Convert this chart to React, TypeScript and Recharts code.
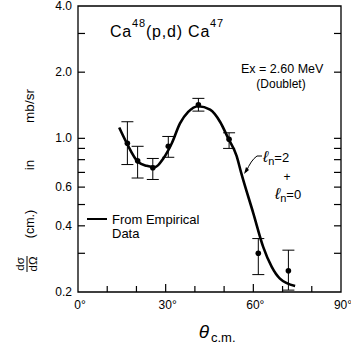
import React from 'react';
import {
  ComposedChart,
  Line,
  Scatter,
  ErrorBar,
  XAxis,
  YAxis,
  ReferenceArea,
  Customized,
} from 'recharts';

// fitted curve (l=2 + l=0)
const curveAngle = [14.1, 16.7, 20.6, 23.5, 26.4, 29.2, 32.1, 34.9, 37.7, 41.2, 45.2, 48.6, 51.4, 54.3, 55.8, 60.0, 63.4, 66.3, 69.1, 74.3];
const curveValue = [1.12, 0.95, 0.78, 0.75, 0.74, 0.81, 0.95, 1.17, 1.32, 1.4, 1.35, 1.19, 1.0, 0.83, 0.7, 0.456, 0.32, 0.26, 0.23, 0.213];

// measured points with error bar limits
const pointAngle = [16.9, 20.4, 25.6, 30.9, 41.2, 51.7, 61.7, 72.0];
const pointValue = [0.95, 0.79, 0.735, 0.92, 1.42, 0.99, 0.3, 0.25];
const pointLow = [0.76, 0.66, 0.65, 0.82, 1.33, 0.9, 0.24, 0.204];
const pointHigh = [1.19, 0.92, 0.81, 1.02, 1.52, 1.06, 0.35, 0.31];

const yTicks = [0.2, 0.3, 0.4, 0.5, 0.6, 0.7, 0.8, 0.9, 1, 2, 3, 4];
const yLabelValues = [0.2, 0.4, 0.6, 1, 2, 4];
const yLabelText = ['0.2', '0.4', '0.6', '1.0', '2.0', '4.0'];
const xTicks = [0, 10, 20, 30, 40, 50, 60, 70, 80, 90];
const xLabelValues = [0, 30, 60, 90];

const curveData = curveAngle.map((a, i) => ({ angle: a, value: curveValue[i] }));
const pointData = pointAngle.map((a, i) => ({
  angle: a,
  value: pointValue[i],
  err: [pointValue[i] - pointLow[i], pointHigh[i] - pointValue[i]],
}));

const W = 351;
const H = 349;
const MARGIN = { top: 6, right: 10, bottom: 0, left: 0 };
const PLOT_RIGHT = W - MARGIN.right;
const FONT = '"Liberation Sans", Arial, sans-serif';

const YTick = (props: any) => {
  const { x, y, payload } = props;
  const v = payload.value;
  const idx = yLabelValues.indexOf(v);
  const edge = v === 0.2 || v === 4;
  return (
    <g>
      {!edge && <line x1={x} x2={x + 7} y1={y} y2={y} stroke="#000" strokeWidth={1.2} />}
      {!edge && <line x1={PLOT_RIGHT} x2={PLOT_RIGHT - 7} y1={y} y2={y} stroke="#000" strokeWidth={1.2} />}
      {idx >= 0 && (
        <text x={x - 6} y={y + 4} textAnchor="end" fontSize={12} fontFamily={FONT} fill="#000">
          {yLabelText[idx]}
        </text>
      )}
    </g>
  );
};

const XTick = (props: any) => {
  const { x, y, payload } = props;
  const v = payload.value;
  const edge = v === 0 || v === 90;
  const labelled = xLabelValues.includes(v);
  return (
    <g>
      {!edge && <line x1={x} x2={x} y1={y} y2={y - (labelled ? 8 : 6)} stroke="#000" strokeWidth={1.2} />}
      {labelled && (
        <text x={x + 2} y={y + 17} textAnchor="middle" fontSize={12} fontFamily={FONT} fill="#000">
          {`${v}°`}
        </text>
      )}
    </g>
  );
};

const Dot = (props: any) => <circle cx={props.cx} cy={props.cy} r={2.8} fill="#000" />;

const Annotations = () => (
  <g fontFamily={FONT} fill="#000">
    <text x={110} y={37} fontSize={16} letterSpacing={0.8}>
      Ca<tspan dy={-10} fontSize={11}>48</tspan>
      <tspan dy={10}>(p,d) Ca</tspan>
      <tspan dy={-10} fontSize={11}>47</tspan>
    </text>
    <text x={241} y={73} fontSize={12.5}>Ex = 2.60 MeV</text>
    <text x={281} y={88} fontSize={12} textAnchor="middle">(Doublet)</text>

    <text x={263} y={162} fontSize={16} fontStyle="italic">ℓ<tspan dy={3} fontSize={11} fontStyle="normal">n</tspan><tspan dy={-3} fontSize={13} fontStyle="normal">=2</tspan></text>
    <text x={287} y={181} fontSize={12} textAnchor="middle">+</text>
    <text x={275} y={199} fontSize={16} fontStyle="italic">ℓ<tspan dy={3} fontSize={11} fontStyle="normal">n</tspan><tspan dy={-3} fontSize={13} fontStyle="normal">=0</tspan></text>
    <path d="M 262 156 L 257 156 Q 251 160 246 172" fill="none" stroke="#000" strokeWidth={1} />
    <path d="M 244 174 L 246 167 L 249 170 Z" fill="#000" />

    <line x1={87} x2={107} y1={219} y2={219} stroke="#000" strokeWidth={2} />
    <text x={112} y={224} fontSize={13}>From  Empirical</text>
    <text x={112} y={238} fontSize={13}>Data</text>

    <g transform="rotate(-90)">
      <text x={-106} y={34} fontSize={13.5} textAnchor="middle">mb/sr</text>
      <text x={-165} y={34} fontSize={13.5} textAnchor="middle">in</text>
      <text x={-224} y={34} fontSize={12.5} textAnchor="middle">(cm.)</text>
      <text x={-264} y={24} fontSize={11.5} textAnchor="middle">dσ</text>
      <line x1={-272} x2={-256} y1={27} y2={27} stroke="#000" strokeWidth={1} />
      <text x={-264} y={37} fontSize={11.5} textAnchor="middle">dΩ</text>
    </g>

    <text x={204} y={338} fontSize={19} fontStyle="italic" textAnchor="middle">θ</text>
    <text x={211} y={342} fontSize={13}>c.m.</text>
  </g>
);

const App: React.FC = () => (
  <div style={{ position: 'absolute', left: 0, top: 0, width: W, height: H, background: '#fff' }}>
    <ComposedChart width={W} height={H} margin={MARGIN}>
      <XAxis
        dataKey="angle"
        type="number"
        domain={[0, 90]}
        ticks={xTicks}
        interval={0}
        axisLine={false}
        tickLine={false}
        tickSize={0}
        tickMargin={0}
        height={57}
        tick={<XTick />}
      />
      <YAxis
        type="number"
        scale="log"
        domain={[0.2, 4]}
        allowDataOverflow
        ticks={yTicks}
        interval={0}
        axisLine={false}
        tickLine={false}
        tickSize={0}
        tickMargin={0}
        width={78}
        tick={<YTick />}
      />
      <ReferenceArea x1={0} x2={90} y1={0.2} y2={4} fill="none" stroke="#000" strokeWidth={1.3} />
      <Line
        data={curveData}
        dataKey="value"
        type="monotone"
        stroke="#000"
        strokeWidth={2.6}
        dot={false}
        isAnimationActive={false}
      />
      <Scatter data={pointData} dataKey="value" shape={<Dot />} isAnimationActive={false}>
        <ErrorBar dataKey="err" direction="y" width={6} stroke="#000" strokeWidth={1} />
      </Scatter>
      <Customized component={Annotations} />
    </ComposedChart>
  </div>
);

export default App;
